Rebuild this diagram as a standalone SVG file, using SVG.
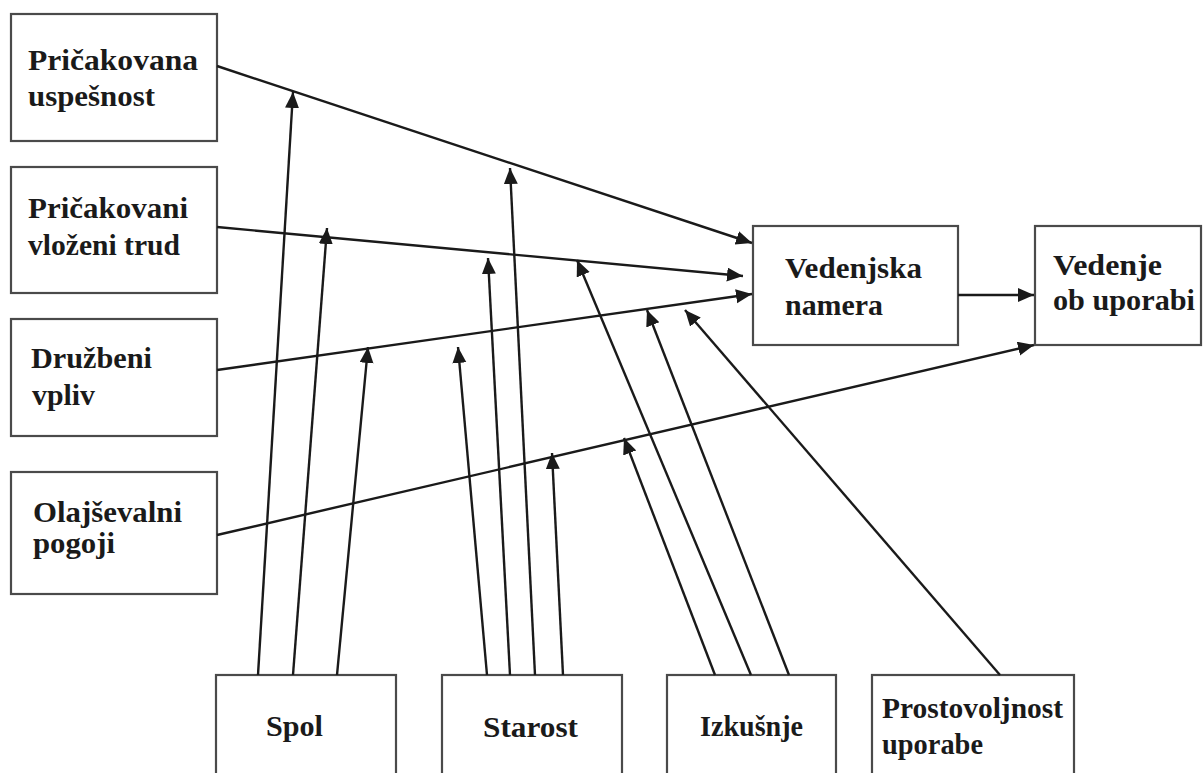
<svg xmlns="http://www.w3.org/2000/svg" width="1203" height="773" viewBox="0 0 1203 773">
<style>
.box{fill:#fff;stroke:#4a4a4a;stroke-width:2.2}
.t{font-family:"Liberation Serif","Times New Roman",serif;font-weight:bold;font-size:29px;fill:#1a1a1a}
.c{stroke:#1a1a1a;stroke-width:2.4;fill:none;marker-end:url(#ah)}
</style>
<defs>
<marker id="ah" markerUnits="userSpaceOnUse" markerWidth="18" markerHeight="15" refX="16" refY="7" orient="auto">
<path d="M0,0 L16,7 L0,14 z" fill="#1a1a1a"/>
</marker>
</defs>
<rect width="1203" height="773" fill="#fff"/>
<g id="n-pu"><rect class="box" x="11" y="14" width="206" height="127"/>
<text class="t" x="28" y="70" textLength="170" lengthAdjust="spacingAndGlyphs">Pričakovana</text>
<text class="t" x="28" y="106" textLength="127" lengthAdjust="spacingAndGlyphs">uspešnost</text></g>
<g id="n-pvt"><rect class="box" x="11" y="167" width="206" height="126"/>
<text class="t" x="28" y="218" textLength="160" lengthAdjust="spacingAndGlyphs">Pričakovani</text>
<text class="t" x="28" y="255" textLength="152" lengthAdjust="spacingAndGlyphs">vloženi trud</text></g>
<g id="n-dv"><rect class="box" x="11" y="319" width="206" height="117"/>
<text class="t" x="31" y="368" textLength="121" lengthAdjust="spacingAndGlyphs">Družbeni</text>
<text class="t" x="32" y="405" textLength="63" lengthAdjust="spacingAndGlyphs">vpliv</text></g>
<g id="n-op"><rect class="box" x="11" y="472" width="206" height="122"/>
<text class="t" x="33" y="522" textLength="149" lengthAdjust="spacingAndGlyphs">Olajševalni</text>
<text class="t" x="33" y="553" textLength="82" lengthAdjust="spacingAndGlyphs">pogoji</text></g>
<g id="n-vn"><rect class="box" x="753" y="226" width="205" height="119"/>
<text class="t" x="785" y="278" textLength="137" lengthAdjust="spacingAndGlyphs">Vedenjska</text>
<text class="t" x="785" y="315" textLength="98" lengthAdjust="spacingAndGlyphs">namera</text></g>
<g id="n-vu"><rect class="box" x="1035" y="226" width="166" height="119"/>
<text class="t" x="1053" y="275" textLength="109" lengthAdjust="spacingAndGlyphs">Vedenje</text>
<text class="t" x="1053" y="310" textLength="142" lengthAdjust="spacingAndGlyphs">ob uporabi</text></g>
<g id="n-spol"><rect class="box" x="216" y="675" width="180" height="110"/>
<text class="t" x="266" y="736" textLength="57" lengthAdjust="spacingAndGlyphs">Spol</text></g>
<g id="n-starost"><rect class="box" x="442" y="675" width="180" height="110"/>
<text class="t" x="483" y="737" textLength="95" lengthAdjust="spacingAndGlyphs">Starost</text></g>
<g id="n-izk"><rect class="box" x="667" y="675" width="169" height="110"/>
<text class="t" x="700" y="736" textLength="103" lengthAdjust="spacingAndGlyphs">Izkušnje</text></g>
<g id="n-pro"><rect class="box" x="872" y="675" width="202" height="110"/>
<text class="t" x="882" y="718" textLength="181" lengthAdjust="spacingAndGlyphs">Prostovoljnost</text>
<text class="t" x="882" y="754" textLength="101" lengthAdjust="spacingAndGlyphs">uporabe</text></g>
<g id="connectors">
<line class="c" x1="217" y1="66" x2="752" y2="243"/>
<line class="c" x1="217" y1="227" x2="743" y2="276"/>
<line class="c" x1="217" y1="370" x2="752" y2="294"/>
<line class="c" x1="217" y1="535" x2="1034" y2="345"/>
<line class="c" x1="958" y1="295" x2="1034" y2="295"/>
<line class="c" x1="258" y1="675" x2="293" y2="92"/>
<line class="c" x1="293" y1="675" x2="327" y2="228"/>
<line class="c" x1="337" y1="675" x2="368" y2="347"/>
<line class="c" x1="487" y1="675" x2="458" y2="347"/>
<line class="c" x1="510" y1="675" x2="488" y2="258"/>
<line class="c" x1="535" y1="675" x2="510" y2="168"/>
<line class="c" x1="563" y1="675" x2="552" y2="453"/>
<line class="c" x1="715" y1="675" x2="624" y2="438"/>
<line class="c" x1="751" y1="675" x2="577" y2="260"/>
<line class="c" x1="789" y1="675" x2="647" y2="310"/>
<line class="c" x1="1000" y1="675" x2="685" y2="310"/>
</g>
</svg>
